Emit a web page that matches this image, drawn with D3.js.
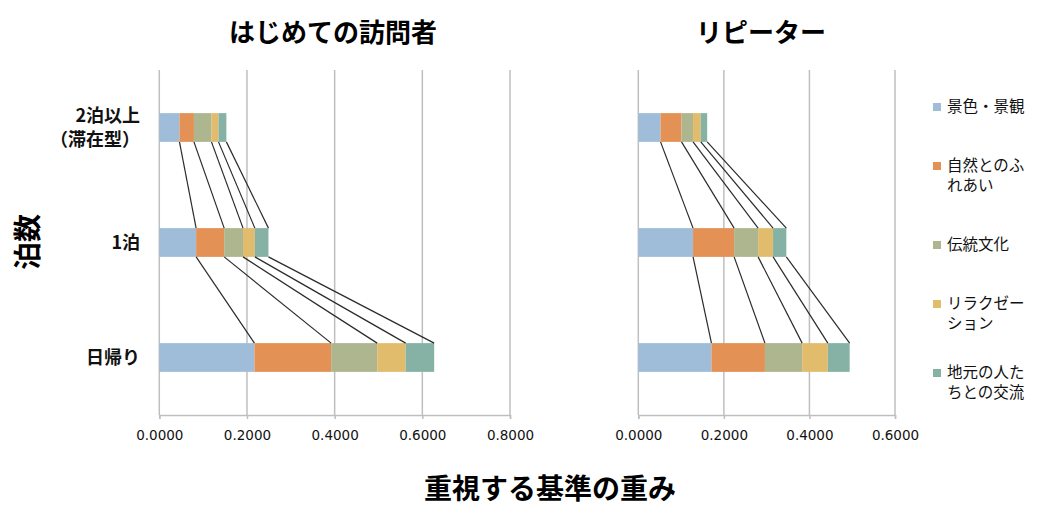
<!DOCTYPE html>
<html lang="ja">
<head>
<meta charset="utf-8">
<script src="https://cdn.jsdelivr.net/npm/d3@7"></script>
<style>
  html, body { margin: 0; padding: 0; background: #fff; }
  svg { display: block; font-family: "Noto Sans CJK JP", "Noto Sans", sans-serif; }
</style>
</head>
<body>
<svg id="chart" width="1040" height="509"></svg>
<script>
// Stay length categories (top to bottom)
const categories = ["2泊以上（滞在型）", "1泊", "日帰り"];
const categoryLines = [["2泊以上", "（滞在型）"], ["1泊"], ["日帰り"]];

// Evaluation criteria (stack order, left to right)
const seriesNames = ["景色・景観", "自然とのふれあい", "伝統文化", "リラクゼーション", "地元の人たちとの交流"];
const seriesColors = ["#9fbdd8", "#e39155", "#adb68e", "#e1bc6d", "#86b2a6"];

// Weights — first-time visitors
const firstMultiNight = [0.046, 0.033, 0.040, 0.016, 0.018];
const firstOneNight   = [0.084, 0.064, 0.043, 0.027, 0.031];
const firstDayTrip    = [0.217, 0.175, 0.105, 0.065, 0.065];

// Weights — repeat visitors
const repeatMultiNight = [0.052, 0.049, 0.027, 0.018, 0.015];
const repeatOneNight   = [0.128, 0.096, 0.056, 0.035, 0.031];
const repeatDayTrip    = [0.171, 0.125, 0.087, 0.060, 0.051];

// Axis ticks
const firstTicks  = [0, 0.2, 0.4, 0.6, 0.8];
const repeatTicks = [0, 0.2, 0.4, 0.6];

const titles = ["はじめての訪問者", "リピーター"];

const svg = d3.select("#chart");
const plotTop = 70, plotBottom = 415;
const gridColor = "#bfbfbf";
const fmt = d3.format(".4f");

const panels = [
  { title: titles[0], rows: [firstMultiNight, firstOneNight, firstDayTrip], ticks: firstTicks, x0: 159.3, x1: 510, titleX: 333 },
  { title: titles[1], rows: [repeatMultiNight, repeatOneNight, repeatDayTrip], ticks: repeatTicks, x0: 638.3, x1: 895, titleX: 761 }
];

const y = d3.scaleBand()
  .domain(categories)
  .range([plotTop, plotBottom])
  .paddingInner(0.75)
  .paddingOuter(0.375);

panels.forEach((p) => {
  const x = d3.scaleLinear()
    .domain([0, d3.max(p.ticks)])
    .range([p.x0, p.x1]);

  const g = svg.append("g");

  // vertical gridlines
  g.selectAll("line.grid").data(p.ticks).join("line")
    .attr("class", "grid")
    .attr("x1", d => x(d)).attr("x2", d => x(d))
    .attr("y1", plotTop).attr("y2", plotBottom)
    .attr("stroke", gridColor).attr("stroke-width", 1.5);

  // bottom axis
  const axis = d3.axisBottom(x).tickValues(p.ticks).tickFormat(fmt).tickSize(4).tickPadding(11);
  const ag = g.append("g").attr("transform", `translate(0,${plotBottom})`).call(axis);
  ag.select(".domain").attr("stroke", gridColor).attr("stroke-width", 1.5);
  ag.selectAll(".tick line").attr("stroke", gridColor).attr("stroke-width", 1.5);
  ag.selectAll(".tick text")
    .attr("fill", "#111")
    .style("font-family", "'DejaVu Sans', sans-serif")
    .style("font-size", "13.5px");

  // stacked bars
  const stacks = p.rows.map(vals => {
    let acc = 0;
    return vals.map((v, i) => { const s = acc; acc += v; return { i, x0: s, x1: acc }; });
  });

  stacks.forEach((segs, ci) => {
    g.selectAll(null).data(segs).join("rect")
      .attr("x", d => x(d.x0))
      .attr("width", d => x(d.x1) - x(d.x0))
      .attr("y", y(categories[ci]))
      .attr("height", y.bandwidth())
      .attr("fill", d => seriesColors[d.i]);
  });

  // series connector lines between adjacent bars
  for (let ci = 0; ci < stacks.length - 1; ci++) {
    const upper = stacks[ci], lower = stacks[ci + 1];
    const yA = y(categories[ci]) + y.bandwidth();
    const yB = y(categories[ci + 1]);
    g.selectAll(null).data(upper).join("line")
      .attr("x1", d => x(d.x1)).attr("y1", yA)
      .attr("x2", (d, i) => x(lower[i].x1)).attr("y2", yB)
      .attr("stroke", "#2b2b2b").attr("stroke-width", 1.2);
  }

  // panel title
  svg.append("text")
    .attr("x", p.titleX).attr("y", 42)
    .attr("text-anchor", "middle")
    .style("font-size", "26px").style("font-weight", "bold")
    .text(p.title);
});

// category labels
categoryLines.forEach((lines, ci) => {
  const cy = y(categories[ci]) + y.bandwidth() / 2;
  const lh = 24;
  const startY = cy - (lines.length - 1) * lh / 2;
  const t = svg.append("text")
    .attr("text-anchor", "end")
    .style("font-size", "18px").style("font-weight", "bold")
    .attr("fill", "#111");
  lines.forEach((s, k) => {
    t.append("tspan")
      .attr("x", 140).attr("y", startY + k * lh)
      .attr("dy", "0.35em")
      .text(s);
  });
});

// y axis title
svg.append("text")
  .attr("transform", "translate(28,242) rotate(-90)")
  .attr("text-anchor", "middle").attr("dy", "0.35em")
  .style("font-size", "28px").style("font-weight", "bold")
  .text("泊数");

// x axis title
svg.append("text")
  .attr("x", 550).attr("y", 499)
  .attr("text-anchor", "middle")
  .style("font-size", "28px").style("font-weight", "bold")
  .text("重視する基準の重み");

// legend
const legend = svg.append("g");
seriesNames.forEach((name, i) => {
  const lines = [];
  for (let k = 0; k < name.length; k += 5) lines.push(name.slice(k, k + 5));
  const cy = 107 + i * 69;
  const lh = 20;
  const firstY = cy - (lines.length - 1) * lh / 2;
  legend.append("rect")
    .attr("x", 933).attr("y", firstY - 4)
    .attr("width", 8).attr("height", 8)
    .attr("fill", seriesColors[i]);
  const t = legend.append("text")
    .style("font-size", "15.5px")
    .attr("fill", "#111");
  lines.forEach((s, k) => {
    t.append("tspan")
      .attr("x", 947).attr("y", firstY + k * lh)
      .attr("dy", "0.35em")
      .text(s);
  });
});
</script>
</body>
</html>
